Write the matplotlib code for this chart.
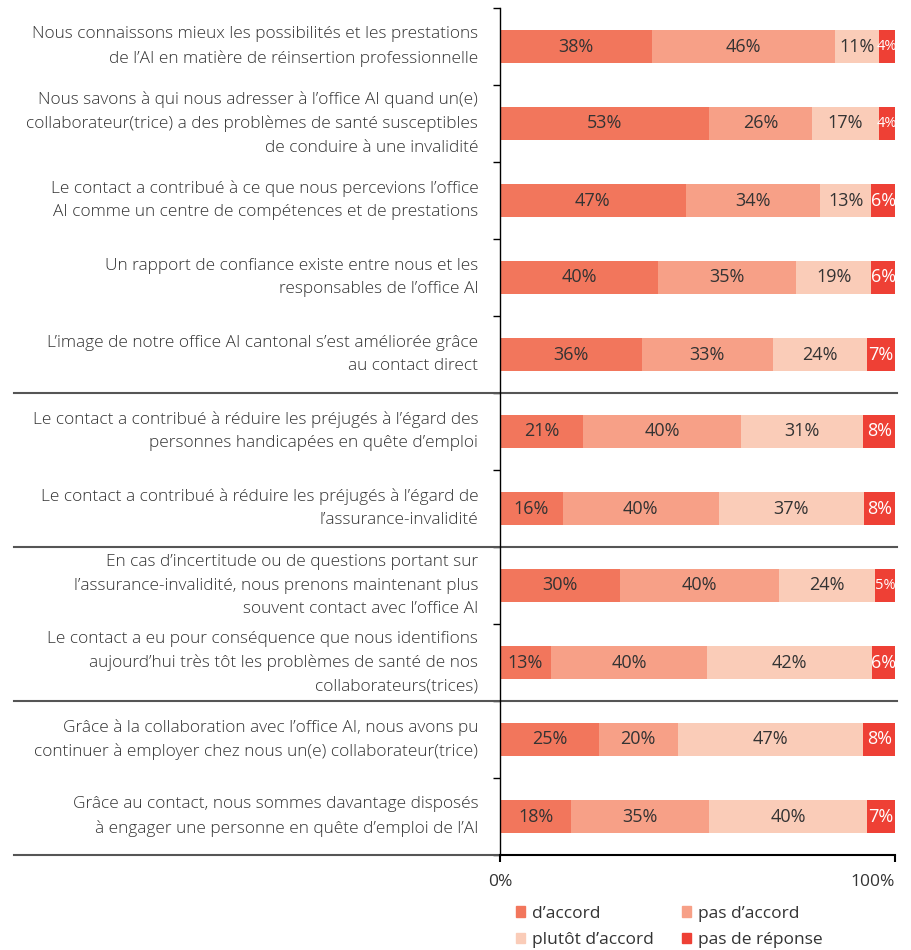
import numpy as np
import matplotlib.pyplot as plt
import matplotlib.transforms as mtransforms
from matplotlib.patches import Patch

plt.rcParams['font.family'] = ['Open Sans', 'DejaVu Sans']

etiquettes = [
    "Nous connaissons mieux les possibilités et les prestations\nde l’AI en matière de réinsertion professionnelle",
    "Nous savons à qui nous adresser à l’office AI quand un(e)\ncollaborateur(trice) a des problèmes de santé susceptibles\nde conduire à une invalidité",
    "Le contact a contribué à ce que nous percevions l’office\nAI comme un centre de compétences et de prestations",
    "Un rapport de confiance existe entre nous et les\nresponsables de l’office AI",
    "L’image de notre office AI cantonal s’est améliorée grâce\nau contact direct",
    "Le contact a contribué à réduire les préjugés à l’égard des\npersonnes handicapées en quête d’emploi",
    "Le contact a contribué à réduire les préjugés à l’égard de\nl’assurance-invalidité",
    "En cas d’incertitude ou de questions portant sur\nl’assurance-invalidité, nous prenons maintenant plus\nsouvent contact avec l’office AI",
    "Le contact a eu pour conséquence que nous identifions\naujourd’hui très tôt les problèmes de santé de nos\ncollaborateurs(trices)",
    "Grâce à la collaboration avec l’office AI, nous avons pu\ncontinuer à employer chez nous un(e) collaborateur(trice)",
    "Grâce au contact, nous sommes davantage disposés\nà engager une personne en quête d’emploi de l’AI",
]

series = ["d’accord", "pas d’accord", "plutôt d’accord", "pas de réponse"]
d_accord = [38, 53, 47, 40, 36, 21, 16, 30, 13, 25, 18]
pas_d_accord = [46, 26, 34, 35, 33, 40, 40, 40, 40, 20, 35]
plutot_d_accord = [11, 17, 13, 19, 24, 31, 37, 24, 42, 47, 40]
pas_de_reponse = [4, 4, 6, 6, 7, 8, 8, 5, 6, 8, 7]

couleurs = ['#F2765C', '#F7A087', '#FACCB8', '#EE4035']
separateurs = [4.5, 6.5, 8.5]

valeurs = np.array([d_accord, pas_d_accord, plutot_d_accord, pas_de_reponse], dtype=float)
# les pourcentages arrondis ne font pas toujours 100 : on normalise la longueur
largeurs = valeurs / valeurs.sum(axis=0) * 100

fig = plt.figure(figsize=(9.11, 9.5), dpi=100)
ax = fig.add_axes([500 / 911, 1 - 855 / 950, 395 / 911, 847 / 950])

y = np.arange(len(etiquettes))
gauche = np.zeros(len(etiquettes))
for i in range(4):
    ax.barh(y, largeurs[i], left=gauche, height=0.42, color=couleurs[i], label=series[i])
    for j in range(len(etiquettes)):
        v = valeurs[i, j]
        cx = gauche[j] + largeurs[i, j] / 2
        if i == 3 and v < 6:
            # segment trop étroit : chiffre en police étroite
            ax.text(cx, y[j], f"{int(v)}%", ha='center', va='center', color='white',
                    fontsize=10.5,
                    family=['Liberation Sans Narrow', 'DejaVu Sans Condensed', 'Open Sans'])
        elif i == 3:
            ax.text(cx, y[j], f"{int(v)}%", ha='center', va='center', color='white', fontsize=13)
        else:
            ax.text(cx, y[j], f"{int(v)}%", ha='center', va='center', color='#333333', fontsize=13)
    gauche += largeurs[i]

ax.set_xlim(0, 100)
ax.set_ylim(len(etiquettes) - 0.5, -0.5)
ax.set_xticks([0, 100])
ax.set_xticklabels(['0%', '100%'], fontsize=12.5, color='#333333')
ax.get_xticklabels()[1].set_horizontalalignment('right')
ax.set_yticks(np.arange(len(etiquettes) + 1) - 0.5)
ax.set_yticklabels([])
ax.tick_params(axis='x', length=5, width=1.5, pad=9)
ax.tick_params(axis='y', length=5, width=1)
for s in ['top', 'right']:
    ax.spines[s].set_visible(False)
ax.spines['left'].set_linewidth(1)
ax.spines['bottom'].set_linewidth(1.5)

for j, txt in enumerate(etiquettes):
    ax.text(-0.055, y[j], txt, transform=mtransforms.blended_transform_factory(ax.transAxes, ax.transData),
            ha='right', va='center', fontsize=12.4, color='#333333', linespacing=1.6,
            fontweight='light')

trans = mtransforms.blended_transform_factory(fig.transFigure, ax.transData)
for s in separateurs:
    ax.plot([14 / 911, 897 / 911], [s, s], transform=trans, color='#555555', lw=1.5, clip_on=False)
ax.plot([14 / 911, 500 / 911], [len(etiquettes) - 0.5] * 2, transform=trans,
        color='#555555', lw=1.5, clip_on=False)

# ordre pour que la légende se lise par lignes
ordre = [0, 2, 1, 3]
poignees = [Patch(color=couleurs[k]) for k in ordre]
fig.legend(poignees, [series[k] for k in ordre], loc='upper left',
           bbox_to_anchor=(500 / 911, 1 - 890 / 950),
           ncol=2, frameon=False, fontsize=12.5, handlelength=0.55, handleheight=0.55,
           handletextpad=0.4, columnspacing=1.6, labelspacing=0.6, labelcolor='#333333')

fig.savefig('out.png', dpi=100)
